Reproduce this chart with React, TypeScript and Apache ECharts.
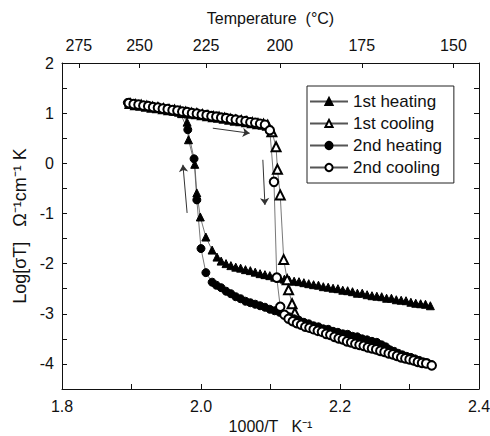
import React, { useEffect, useRef } from "react";
import * as echarts from "echarts";

const seriesNames = ["1st heating", "1st cooling", "2nd heating", "2nd cooling"];

const heating1: number[][] = [
  [2.330,-2.84],[2.323,-2.81],[2.316,-2.80],[2.309,-2.79],[2.302,-2.77],[2.295,-2.74],[2.288,-2.73],[2.281,-2.72],
  [2.274,-2.69],[2.267,-2.69],[2.260,-2.66],[2.253,-2.65],[2.246,-2.64],[2.239,-2.62],[2.232,-2.59],[2.225,-2.59],
  [2.218,-2.56],[2.211,-2.54],[2.204,-2.53],[2.197,-2.50],[2.190,-2.49],[2.183,-2.47],[2.176,-2.46],[2.169,-2.43],
  [2.162,-2.42],[2.155,-2.40],[2.148,-2.38],[2.141,-2.36],[2.134,-2.35],[2.127,-2.33],[2.120,-2.31],[2.113,-2.29],
  [2.106,-2.27],[2.099,-2.24],[2.092,-2.22],[2.085,-2.20],[2.078,-2.17],[2.071,-2.14],[2.064,-2.12],[2.057,-2.09],
  [2.050,-2.07],[2.043,-2.04],[2.036,-2.00],[2.029,-1.95],[2.023,-1.87],[2.016,-1.73],[2.007,-1.47],[1.999,-1.07],
  [1.994,-0.59],[1.991,-0.02],[1.982,0.47],[1.980,0.82],[1.972,0.99],[1.962,1.04],[1.952,1.07],[1.942,1.10],
  [1.932,1.12],[1.922,1.14],[1.912,1.17],[1.902,1.19],[1.896,1.20]
];

const cooling1: number[][] = [
  [1.898,1.19],[1.906,1.17],[1.914,1.16],[1.922,1.14],[1.930,1.12],[1.938,1.11],[1.946,1.09],[1.954,1.07],
  [1.962,1.06],[1.970,1.04],[1.978,1.02],[1.986,1.00],[1.994,0.99],[2.002,0.97],[2.010,0.95],[2.018,0.93],
  [2.026,0.92],[2.034,0.90],[2.042,0.88],[2.050,0.86],[2.058,0.85],[2.066,0.83],[2.074,0.81],[2.082,0.79],
  [2.090,0.78],[2.096,0.76],[2.102,0.63],[2.108,0.33],[2.110,-0.12],[2.114,-0.63],[2.119,-1.92],[2.124,-2.32],
  [2.126,-2.52],[2.131,-2.80],[2.135,-2.98]
];

const heating2: number[][] = [
  [2.332,-4.02],[2.326,-3.98],[2.320,-3.96],[2.314,-3.93],[2.308,-3.90],[2.302,-3.87],[2.296,-3.85],[2.290,-3.82],
  [2.284,-3.79],[2.278,-3.75],[2.272,-3.72],[2.266,-3.66],[2.260,-3.62],[2.253,-3.57],[2.246,-3.55],[2.239,-3.52],
  [2.232,-3.50],[2.225,-3.46],[2.218,-3.45],[2.211,-3.41],[2.204,-3.40],[2.197,-3.37],[2.190,-3.35],[2.183,-3.31],
  [2.176,-3.30],[2.169,-3.26],[2.162,-3.24],[2.155,-3.20],[2.148,-3.17],[2.141,-3.13],[2.134,-3.10],[2.127,-3.06],
  [2.120,-3.02],[2.113,-2.97],[2.106,-2.94],[2.099,-2.91],[2.092,-2.87],[2.085,-2.84],[2.078,-2.81],[2.071,-2.78],
  [2.064,-2.75],[2.057,-2.70],[2.050,-2.66],[2.043,-2.60],[2.036,-2.55],[2.029,-2.48],[2.022,-2.43],[2.016,-2.37],
  [2.007,-2.18],[2.000,-1.70],[1.994,-0.73],[1.990,0.09],[1.981,0.67],[1.970,1.00],[1.960,1.05],[1.950,1.08],
  [1.940,1.10],[1.930,1.13],[1.920,1.15],[1.910,1.17],[1.900,1.19],[1.894,1.21]
];

const cooling2: number[][] = [
  [1.896,1.20],[1.903,1.18],[1.910,1.17],[1.917,1.15],[1.924,1.14],[1.931,1.12],[1.938,1.11],[1.945,1.09],
  [1.952,1.08],[1.959,1.06],[1.966,1.05],[1.973,1.03],[1.980,1.02],[1.987,1.00],[1.994,0.99],[2.001,0.97],
  [2.008,0.96],[2.015,0.94],[2.022,0.93],[2.029,0.91],[2.036,0.90],[2.043,0.88],[2.050,0.87],[2.057,0.85],
  [2.064,0.84],[2.071,0.82],[2.078,0.81],[2.085,0.79],[2.092,0.77],[2.099,0.66],[2.105,-0.37],[2.109,-2.28],
  [2.114,-2.86],[2.120,-3.02],[2.126,-3.10],[2.132,-3.15],[2.138,-3.19],[2.144,-3.22],[2.150,-3.26],[2.156,-3.28],
  [2.162,-3.31],[2.168,-3.34],[2.174,-3.36],[2.180,-3.40],[2.186,-3.42],[2.192,-3.46],[2.198,-3.49],[2.204,-3.51],
  [2.210,-3.55],[2.216,-3.57],[2.222,-3.60],[2.228,-3.62],[2.234,-3.64],[2.240,-3.67],[2.246,-3.69],[2.252,-3.71],
  [2.258,-3.74],[2.264,-3.76],[2.270,-3.79],[2.276,-3.81],[2.282,-3.84],[2.288,-3.87],[2.294,-3.89],[2.300,-3.91],
  [2.306,-3.93],[2.312,-3.96],[2.318,-3.98],[2.324,-3.99],[2.332,-4.03]
];

const topTempTicks = [275, 250, 225, 200, 175, 150];

const arrows: number[][][] = [
  [[2.017, 0.70], [2.070, 0.60]],
  [[2.089, 0.07], [2.092, -0.83]],
  [[1.980, -0.99], [1.974, -0.03]],
];

const FONT = "Liberation Sans, Arial, sans-serif";

export default function App() {
  const ref = useRef<HTMLDivElement>(null);
  useEffect(() => {
    if (!ref.current) return;
    const chart = echarts.init(ref.current, null, { renderer: "svg" });
    const tickPos = topTempTicks.map((t) => 1000 / (t + 273.15));
    const lineStyle = { color: "#555", width: 0.8 };
    const axisCommon = {
      axisLine: { show: true, onZero: false, lineStyle: { color: "#111", width: 1 } },
      axisTick: { show: true, inside: true, length: 5, lineStyle: { color: "#111", width: 1 } },
      splitLine: { show: false },
    };
    const mk = (name: string, data: number[][], symbol: string, size: number) => ({
      name,
      type: "line",
      xAxisIndex: 0,
      yAxisIndex: 0,
      data,
      symbol,
      symbolSize: size,
      showAllSymbol: true,
      lineStyle,
      itemStyle: { color: "#000", borderColor: "#000", borderWidth: 1 },
      emphasis: { disabled: true },
    });
    const s0: any = mk(seriesNames[0], heating1, "triangle", 8);
    s0.markLine = {
      silent: true,
      symbol: ["none", "arrow"],
      symbolSize: 7,
      label: { show: false },
      lineStyle: { color: "#333", width: 1, type: "solid" },
      emphasis: { disabled: true },
      data: arrows.map((a) => [{ coord: a[0] }, { coord: a[1] }]),
    };
    chart.setOption({
      animation: false,
      backgroundColor: "#fff",
      textStyle: { fontFamily: FONT },
      grid: { left: 62, right: 11, top: 63, bottom: 47, containLabel: false, outerBoundsMode: "none" },
      legend: {
        orient: "vertical",
        left: 307,
        top: 86,
        borderColor: "#222",
        borderWidth: 1,
        padding: [7, 12, 7, 2],
        itemWidth: 38,
        itemHeight: 9,
        itemGap: 5,
        textStyle: { fontSize: 17, color: "#111", fontFamily: FONT },
        data: seriesNames,
      },
      xAxis: [
        {
          type: "value",
          position: "bottom",
          min: 1.8,
          max: 2.4,
          interval: 0.1,
          ...axisCommon,
          axisLabel: {
            fontSize: 16,
            color: "#111",
            margin: 9,
            fontFamily: FONT,
            formatter: (v: number) => (Math.round(v * 10) % 2 === 0 ? v.toFixed(1) : ""),
          },
          name: "1000/T   K\u207B\u00B9",
          nameLocation: "middle",
          nameGap: 29,
          nameTextStyle: { fontSize: 16, color: "#111", fontFamily: FONT },
        },
        {
          type: "value",
          position: "top",
          min: 1.8,
          max: 2.4,
          ...axisCommon,
          axisTick: { ...axisCommon.axisTick, customValues: tickPos },
          axisLabel: {
            fontSize: 16,
            color: "#111",
            margin: 10,
            fontFamily: FONT,
            customValues: tickPos,
            formatter: (v: number) => String(Math.round(1000 / v - 273.15)),
          },
          name: "Temperature  (\u00B0C)",
          nameLocation: "middle",
          nameGap: 37,
          nameTextStyle: { fontSize: 16, color: "#111", fontFamily: FONT },
        },
      ],
      yAxis: [
        {
          type: "value",
          position: "left",
          min: -4.5,
          max: 2,
          interval: 0.5,
          ...axisCommon,
          axisLabel: {
            fontSize: 16,
            color: "#111",
            margin: 8,
            fontFamily: FONT,
            formatter: (v: number) => (Math.abs(v - Math.round(v)) < 1e-6 ? String(Math.round(v)) : ""),
          },
          name: "Log[\u03C3T]   \u03A9\u207B\u00B9cm\u207B\u00B9 K",
          nameLocation: "middle",
          nameRotate: 90,
          nameGap: 29,
          nameTextStyle: { fontSize: 18, color: "#111", fontFamily: FONT },
        },
        {
          type: "value",
          position: "right",
          min: -4.5,
          max: 2,
          interval: 0.5,
          ...axisCommon,
          axisLabel: { show: false },
        },
      ],
      series: [
        s0,
        mk(seriesNames[1], cooling1, "emptyTriangle", 9),
        mk(seriesNames[2], heating2, "circle", 8),
        mk(seriesNames[3], cooling2, "emptyCircle", 8.5),
      ],
    });
    return () => chart.dispose();
  }, []);
  return (
    <div
      ref={ref}
      style={{ position: "fixed", left: 0, top: 0, width: 490, height: 436, background: "#fff" }}
    />
  );
}
